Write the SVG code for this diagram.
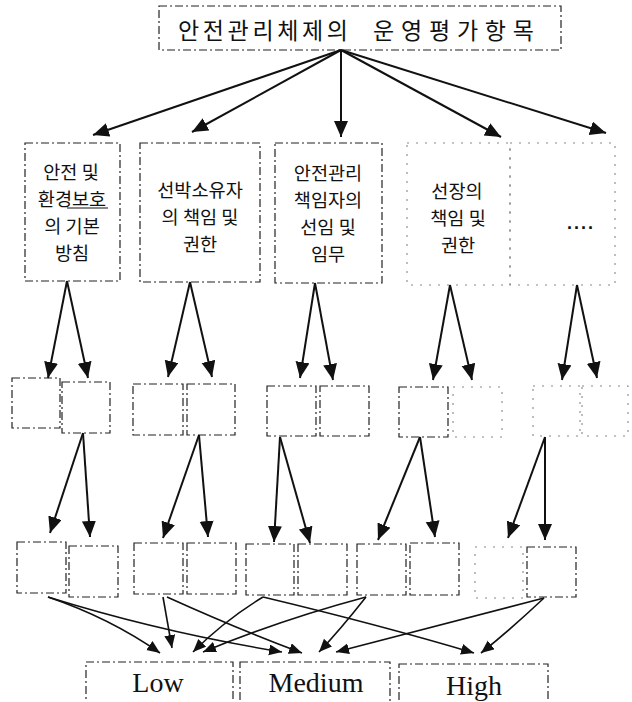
<svg xmlns="http://www.w3.org/2000/svg" width="632" height="702" viewBox="0 0 632 702">
<style>
.box{fill:none;stroke:#222;stroke-width:1.2;stroke-dasharray:8 3 2 3}
.faint{fill:none;stroke:#888;stroke-width:1.1;stroke-dasharray:2 7}
.kr{font-family:"Noto Sans CJK KR","Noto Sans",sans-serif;font-size:18.6px;fill:#111;text-anchor:middle}
.en{font-family:"Liberation Serif",serif;font-size:28px;fill:#111;text-anchor:middle}
.arr{fill:none;stroke:#111;stroke-width:2;marker-end:url(#ah)}
.arr2{fill:none;stroke:#111;stroke-width:1.6;marker-end:url(#ah2)}
</style>
<defs>
<marker id="ah" markerUnits="userSpaceOnUse" markerWidth="17" markerHeight="15" refX="16" refY="7" orient="auto">
<path d="M0,0 L16,7 L0,14 z" fill="#111"/>
</marker>
<marker id="ah2" markerUnits="userSpaceOnUse" markerWidth="14" markerHeight="12" refX="13" refY="5.5" orient="auto">
<path d="M0,0 L13,5.5 L0,11 z" fill="#111"/>
</marker>
</defs>
<rect width="632" height="702" fill="#fff"/>

<g id="title">
<rect class="box" x="159" y="6" width="402" height="44"/>
<text x="178" y="39" style="font-family:'Noto Sans CJK KR','Noto Sans',sans-serif;font-size:23px;fill:#111" textLength="170" lengthAdjust="spacing">안전관리체제의</text>
<text x="373" y="39" style="font-family:'Noto Sans CJK KR','Noto Sans',sans-serif;font-size:23px;fill:#111" textLength="161" lengthAdjust="spacing">운영평가항목</text>
</g>

<g id="n1">
<rect class="box" x="25" y="143" width="95" height="138"/>
<text class="kr" x="71" y="179">안전 및</text>
<text class="kr" x="72" y="206">환경보호</text>
<line x1="67" y1="208" x2="108" y2="208" stroke="#111" stroke-width="1.2"/>
<text class="kr" x="72" y="233">의 기본</text>
<text class="kr" x="72" y="260">방침</text>
</g>
<g id="n2">
<rect class="box" x="140" y="143" width="120" height="139"/>
<text class="kr" x="200" y="197">선박소유자</text>
<text class="kr" x="200" y="224">의 책임 및</text>
<text class="kr" x="200" y="251">권한</text>
</g>
<g id="n3">
<rect class="box" x="275" y="143" width="107" height="140"/>
<text class="kr" x="328" y="180">안전관리</text>
<text class="kr" x="328" y="207">책임자의</text>
<text class="kr" x="328" y="234">선임 및</text>
<text class="kr" x="328" y="261">임무</text>
</g>
<g id="n4">
<rect class="faint" x="407" y="143" width="103" height="142"/>
<text class="kr" x="457" y="198">선장의</text>
<text class="kr" x="458" y="225">책임 및</text>
<text class="kr" x="458" y="252">권한</text>
</g>
<g id="n5">
<rect class="faint" x="510" y="143" width="105" height="142"/>
<text x="581" y="229" style="font-family:'Liberation Sans',sans-serif;font-size:18px;font-weight:bold;fill:#111;text-anchor:middle;letter-spacing:2px">....</text>
</g>

<g id="row2">
<rect id="r2a" class="box" x="12" y="378" width="48" height="50"/>
<rect id="r2b" class="box" x="62" y="382" width="48" height="51"/>
<rect id="r2c" class="box" x="133" y="384" width="50" height="51"/>
<rect id="r2d" class="box" x="187" y="384" width="48" height="51"/>
<rect id="r2e" class="box" x="267" y="386" width="49" height="50"/>
<rect id="r2f" class="box" x="320" y="386" width="49" height="50"/>
<rect id="r2g" class="box" x="399" y="387" width="49" height="50"/>
<rect id="r2h" class="faint" x="453" y="387" width="49" height="50"/>
<rect id="r2i" class="faint" x="533" y="386" width="47" height="50"/>
<rect id="r2j" class="faint" x="582" y="386" width="46" height="50"/>
</g>

<g id="row3">
<rect id="r3a" class="box" x="17" y="542" width="49" height="51"/>
<rect id="r3b" class="box" x="69" y="546" width="49" height="51"/>
<rect id="r3c" class="box" x="134" y="543" width="49" height="51"/>
<rect id="r3d" class="box" x="187" y="543" width="49" height="51"/>
<rect id="r3e" class="box" x="246" y="544" width="48" height="51"/>
<rect id="r3f" class="box" x="298" y="544" width="49" height="51"/>
<rect id="r3g" class="box" x="357" y="544" width="49" height="51"/>
<rect id="r3h" class="box" x="410" y="543" width="49" height="52"/>
<rect id="r3i" class="faint" x="475" y="547" width="48" height="51"/>
<rect id="r3j" class="box" x="527" y="547" width="49" height="50"/>
</g>

<g id="low">
<rect class="box" x="86" y="662" width="147" height="45"/>
<text class="en" x="158" y="692">Low</text>
</g>
<g id="medium">
<rect class="box" x="240" y="662" width="150" height="45"/>
<text class="en" x="316" y="692">Medium</text>
</g>
<g id="high">
<rect class="box" x="399" y="664" width="149" height="45"/>
<text class="en" x="474" y="695">High</text>
</g>

<g id="connectors">
<line class="arr" x1="341" y1="50" x2="93" y2="135"/>
<line class="arr" x1="341" y1="50" x2="192" y2="132"/>
<line class="arr" x1="341" y1="50" x2="341" y2="137"/>
<line class="arr" x1="341" y1="50" x2="501" y2="137"/>
<line class="arr" x1="341" y1="50" x2="606" y2="133"/>

<line class="arr" x1="67" y1="281" x2="48" y2="378"/>
<line class="arr" x1="67" y1="281" x2="88" y2="378"/>
<line class="arr" x1="190" y1="282" x2="168" y2="377"/>
<line class="arr" x1="190" y1="282" x2="212" y2="377"/>
<line class="arr" x1="315" y1="283" x2="300" y2="378"/>
<line class="arr" x1="315" y1="283" x2="333" y2="380"/>
<line class="arr" x1="450" y1="285" x2="433" y2="380"/>
<line class="arr" x1="450" y1="285" x2="472" y2="380"/>
<line class="arr" x1="577" y1="285" x2="562" y2="380"/>
<line class="arr" x1="577" y1="285" x2="597" y2="378"/>

<line class="arr" x1="83" y1="433" x2="50" y2="533"/>
<line class="arr" x1="83" y1="433" x2="90" y2="537"/>
<line class="arr" x1="199" y1="435" x2="163" y2="538"/>
<line class="arr" x1="199" y1="435" x2="208" y2="537"/>
<line class="arr" x1="280" y1="437" x2="274" y2="542"/>
<line class="arr" x1="280" y1="437" x2="310" y2="543"/>
<line class="arr" x1="420" y1="437" x2="378" y2="540"/>
<line class="arr" x1="420" y1="437" x2="435" y2="537"/>
<line class="arr" x1="545" y1="437" x2="508" y2="538"/>
<line class="arr" x1="545" y1="437" x2="545" y2="540"/>

<path class="arr2" d="M48,597 Q110,618 160,653"/>
<path class="arr2" d="M48,597 Q160,632 282,652"/>
<path class="arr2" d="M163,597 L172,648"/>
<path class="arr2" d="M167,597 Q240,630 302,653"/>
<path class="arr2" d="M263,597 Q225,620 193,652"/>
<path class="arr2" d="M263,597 Q380,625 474,653"/>
<path class="arr2" d="M366,597 Q280,620 203,652"/>
<path class="arr2" d="M366,597 Q340,630 319,652"/>
<path class="arr2" d="M544,598 Q440,625 336,652"/>
<path class="arr2" d="M544,598 Q510,630 481,653"/>
</g>
</svg>
